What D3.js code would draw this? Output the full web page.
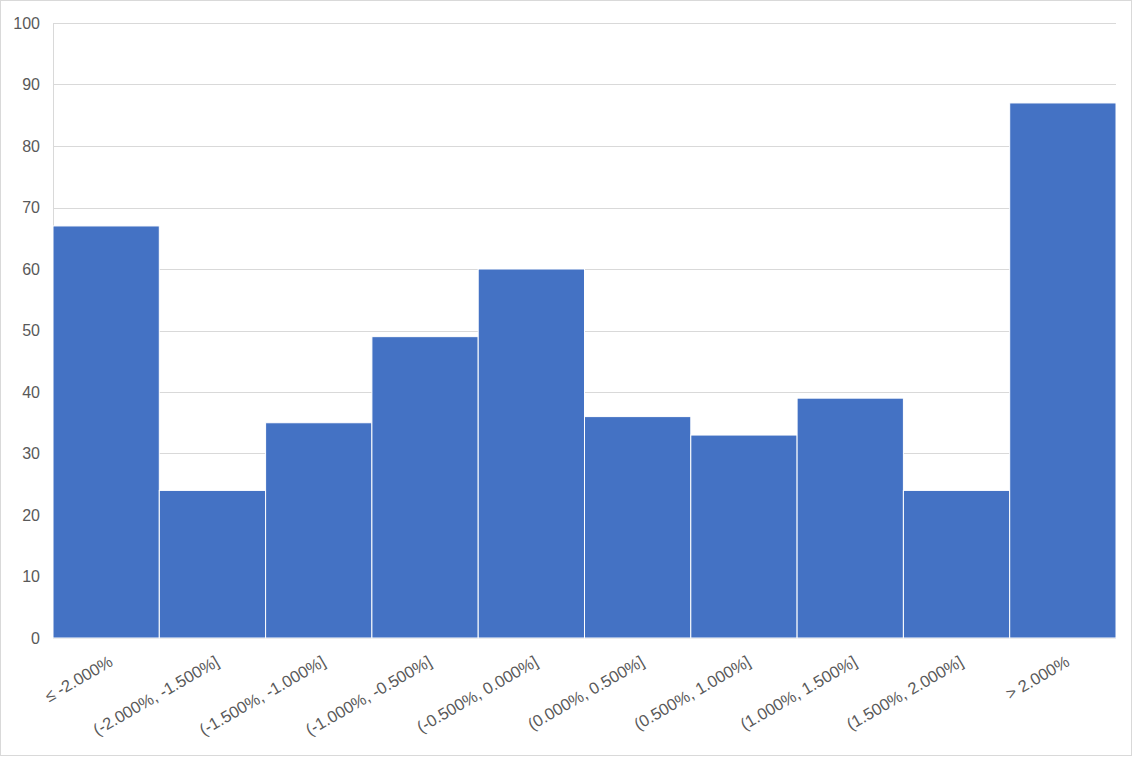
<!DOCTYPE html>
<html><head><meta charset="utf-8">
<script src="https://cdn.jsdelivr.net/npm/d3@7"></script>
<style>body{margin:0;background:#fff}svg{display:block}text{font-family:"Liberation Sans",Arial,sans-serif;fill:#595959}</style>
</head><body><svg id="c" width="1133" height="757"></svg>
<script>
const categories = ["≤ -2.000%","(-2.000%, -1.500%]","(-1.500%, -1.000%]","(-1.000%, -0.500%]","(-0.500%, 0.000%]","(0.000%, 0.500%]","(0.500%, 1.000%]","(1.000%, 1.500%]","(1.500%, 2.000%]","> 2.000%"];
const counts = [67,24,35,49,60,36,33,39,24,87];
const yTicks = [0,10,20,30,40,50,60,70,80,90,100];

const svg = d3.select("#c");
svg.append("rect").attr("x",0.5).attr("y",0.5).attr("width",1131).attr("height",755).attr("fill","#fff").attr("stroke","#d9d9d9");
const L=53,R=1116,T=23,B=638;
const x = d3.scaleBand().domain(categories).range([L,R]).padding(0);
const y = d3.scaleLinear().domain([0,100]).range([B,T]);

svg.append("g").selectAll("line").data(yTicks).join("line")
 .attr("x1",L).attr("x2",R).attr("y1",d=>Math.round(y(d))+0.5).attr("y2",d=>Math.round(y(d))+0.5)
 .attr("stroke","#d9d9d9").attr("stroke-width",1);
svg.append("line").attr("x1",L+0.5).attr("x2",L+0.5).attr("y1",T).attr("y2",B).attr("stroke","#d9d9d9");

svg.append("g").selectAll("rect").data(counts).join("rect")
 .attr("x",(d,i)=>x(categories[i])).attr("width",x.bandwidth())
 .attr("y",d=>y(d)).attr("height",d=>B-y(d))
 .attr("fill","#4472C4").attr("stroke","#fff").attr("stroke-width",1);

const yAxis = svg.append("g").attr("transform",`translate(${L},0)`).call(d3.axisLeft(y).tickValues(yTicks).tickSize(0).tickPadding(13));
yAxis.select(".domain").remove();
yAxis.selectAll("text").style("font-size","16px").attr("fill","#595959").attr("font-family","Liberation Sans, Arial, sans-serif");

svg.append("g").selectAll("text").data(categories).join("text")
 .attr("transform",d=>`translate(${x(d)+x.bandwidth()/2+5},${B+22}) rotate(-30)`)
 .attr("text-anchor","end").attr("dy","0.35em").style("font-size","16.5px").text(d=>d);
</script></body></html>
